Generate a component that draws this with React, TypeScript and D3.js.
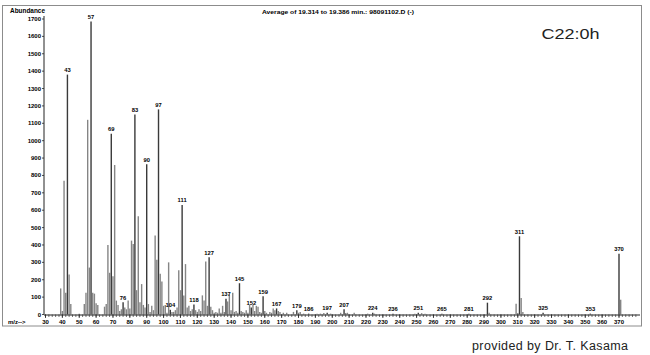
import React from "react";
import * as d3 from "d3";

const mz: number[] = [
  39, 40, 41, 42, 43, 44, 45,
  50, 53, 54, 55, 56, 57, 58, 59, 60, 61,
  65, 66, 67, 68, 69, 70, 71, 72, 73, 74, 75, 76, 77, 78, 79, 80,
  81, 82, 83, 84, 85, 86, 87, 88, 89, 90, 91, 92, 93, 94,
  95, 96, 97, 98, 99, 100, 101, 102, 103, 104, 105, 106, 107, 108, 109, 110,
  111, 112, 113, 114, 115, 116, 117, 118, 119, 120, 121, 122, 123, 124, 125, 126,
  127, 128, 129, 130, 131, 132, 133, 134, 135, 136, 137, 138, 139, 140, 141, 142,
  143, 144, 145, 146, 147, 148, 149, 150, 151, 152, 153, 154, 155, 156, 157, 158,
  159, 160, 161, 163, 164, 165, 166, 167, 168, 169, 171, 173, 177, 179, 180, 181,
  183, 186, 191, 193, 195, 197, 199, 205, 207, 208, 209, 213, 221, 224, 225, 236,
  249, 251, 253, 255, 265, 281, 292, 293, 309, 310, 311, 312, 313, 325, 353, 370, 371,
];

const abundance: number[] = [
  150, 20, 770, 125, 1380, 230, 60,
  5, 60, 125, 1120, 270, 1685, 125, 120, 65, 55,
  45, 60, 400, 240, 1040, 220, 860, 80, 55, 20, 30, 70, 40, 30, 80, 35,
  425, 405, 1150, 140, 565, 70, 175, 55, 40, 865, 60, 15, 50, 25,
  455, 315, 1180, 235, 190, 50, 55, 10, 300, 27, 15, 15, 25, 40, 255, 140,
  630, 110, 290, 40, 50, 20, 30, 57, 25, 15, 30, 20, 110, 80, 305, 50,
  329, 45, 25, 10, 15, 10, 35, 10, 50, 15, 90, 75, 115, 25, 125, 15,
  20, 10, 180, 20, 15, 10, 25, 10, 55, 40, 55, 20, 50, 45, 15, 10,
  105, 20, 10, 15, 10, 35, 25, 35, 20, 15, 10, 10, 15, 25, 10, 15,
  5, 5, 5, 5, 8, 10, 5, 10, 30, 8, 10, 10, 5, 10, 5, 5,
  5, 10, 8, 5, 5, 5, 68, 10, 62, 8, 450, 95, 15, 10, 5, 350, 85,
];

const labeledPeaks: number[] = [
  43, 57, 69, 76, 83, 90, 97, 104, 111, 118, 127, 137, 145, 152, 159, 167,
  179, 186, 197, 207, 224, 236, 251, 265, 281, 292, 311, 325, 353, 370,
];

const yTicks: number[] = d3.range(0, 1800, 100);
const xTicks: number[] = d3.range(30, 380, 10);
const minorTicks: number[] = d3.range(30, 382, 2);

const titleText = "Average of 19.314 to 19.386 min.: 98091102.D (-)";
const sampleText = "C22:0h";
const creditText = "provided by Dr. T. Kasama";

export default function App() {
  const x = d3.scaleLinear().domain([30, 370]).range([45.5, 619]);
  const y = d3.scaleLinear().domain([0, 1700]).range([314.5, 19]);
  const font = "'Liberation Sans', Arial, Helvetica, sans-serif";
  const peaks = mz.map((m, i) => ({ m, v: abundance[i] }));
  const labelSet = new Set(labeledPeaks);
  const base = y(0);

  return (
    <svg
      width={650}
      height={355}
      style={{ position: "absolute", left: 0, top: 0, background: "#fff" }}
      fontFamily={font}
    >
      <rect x={0} y={0} width={650} height={355} fill="#fff" />
      {/* outer frame */}
      <rect x={2.5} y={5.5} width={639} height={320.5} fill="none" stroke="#8c8c8c" strokeWidth={1} />

      {/* title */}
      <text x={262} y={13.5} fontSize={6.2} fontWeight="bold" textLength={152} lengthAdjust="spacingAndGlyphs">
        {titleText}
      </text>
      <text x={10} y={13} fontSize={6.5} fontWeight="bold" textLength={35} lengthAdjust="spacingAndGlyphs">
        Abundance
      </text>
      <text x={541.5} y={39} fontSize={15} fill="#222" textLength={58} lengthAdjust="spacingAndGlyphs">
        {sampleText}
      </text>
      <text x={472} y={350} fontSize={12.5} fill="#222" textLength={156} lengthAdjust="spacing">
        {creditText}
      </text>

      {/* y axis */}
      <line x1={44} x2={44} y1={16} y2={base} stroke="#222" strokeWidth={1} />
      {yTicks.map((t) => (
        <g key={"y" + t}>
          <line x1={42} x2={44} y1={y(t)} y2={y(t)} stroke="#222" strokeWidth={0.8} />
          <text x={41} y={y(t) + 2} fontSize={6} fontWeight="bold" textAnchor="end">
            {t}
          </text>
        </g>
      ))}

      {/* peaks */}
      {peaks.map((p) => (
        <line
          key={"p" + p.m}
          x1={x(p.m)}
          x2={x(p.m)}
          y1={base}
          y2={y(p.v)}
          stroke={labelSet.has(p.m) ? "#3a3a3a" : "#858585"}
          strokeWidth={1.4}
        />
      ))}

      {/* peak labels */}
      {peaks
        .filter((p) => labelSet.has(p.m))
        .map((p) => (
          <text
            key={"l" + p.m}
            x={x(p.m)}
            y={y(p.v) - 2.5}
            fontSize={5.8}
            fontWeight="bold"
            textAnchor="middle"
          >
            {p.m}
          </text>
        ))}

      {/* x axis */}
      <line x1={44} x2={640} y1={base + 0.5} y2={base + 0.5} stroke="#222" strokeWidth={1} />
      {minorTicks.map((t) => (
        <line key={"m" + t} x1={x(t)} x2={x(t)} y1={base} y2={base + 2.5} stroke="#333" strokeWidth={0.7} />
      ))}
      {xTicks.map((t) => (
        <g key={"x" + t}>
          <line x1={x(t)} x2={x(t)} y1={base} y2={base + 3.5} stroke="#222" strokeWidth={0.8} />
          <text x={x(t)} y={323.5} fontSize={6} fontWeight="bold" textAnchor="middle">
            {t}
          </text>
        </g>
      ))}
      <text x={8} y={323.5} fontSize={6} fontWeight="bold">
        m/z--&gt;
      </text>
    </svg>
  );
}
